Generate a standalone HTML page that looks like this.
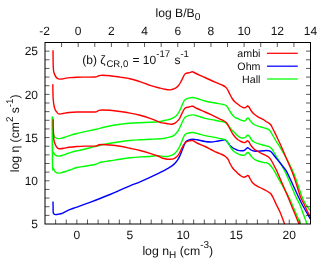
<!DOCTYPE html>
<html><head><meta charset="utf-8"><title>plot</title>
<style>html,body{margin:0;padding:0;background:#fff;width:330px;height:269px;overflow:hidden;}svg{display:block;will-change:transform;}</style></head>
<body>
<svg width="330" height="269" viewBox="0 0 330 269">
<rect width="330" height="269" fill="#fff"/>
<clipPath id="c"><rect x="45.00" y="42.50" width="266.00" height="181.50"/></clipPath>
<g fill="none" stroke-width="1.4" stroke-linejoin="round" stroke-linecap="butt" clip-path="url(#c)">
<path stroke="#00ff00" d="M52.50,116.80 C52.50,118.22 52.48,123.05 52.50,125.30 C52.52,127.55 52.52,128.97 52.60,130.30 C52.68,131.63 52.77,132.47 53.00,133.30 C53.23,134.13 53.67,134.63 54.00,135.30 C54.33,135.97 54.50,136.80 55.00,137.30 C55.50,137.80 56.33,138.08 57.00,138.30 C57.67,138.52 58.17,138.63 59.00,138.60 C59.83,138.57 60.83,138.40 62.00,138.10 C63.17,137.80 64.50,137.30 66.00,136.80 C67.50,136.30 69.50,135.57 71.00,135.10 C72.50,134.63 72.67,134.58 75.00,134.00 C77.33,133.42 81.67,132.35 85.00,131.60 C88.33,130.85 91.67,130.27 95.00,129.50 C98.33,128.73 101.67,127.75 105.00,127.00 C108.33,126.25 112.50,125.45 115.00,125.00 C117.50,124.55 117.50,124.60 120.00,124.30 C122.50,124.00 126.67,123.47 130.00,123.20 C133.33,122.93 136.67,122.85 140.00,122.70 C143.33,122.55 146.67,122.50 150.00,122.30 C153.33,122.10 157.50,121.83 160.00,121.50 C162.50,121.17 163.33,120.67 165.00,120.30 C166.67,119.93 168.83,119.60 170.00,119.30 C171.17,119.00 171.00,119.05 172.00,118.50 C173.00,117.95 174.83,117.08 176.00,116.00 C177.17,114.92 178.08,113.58 179.00,112.00 C179.92,110.42 180.75,108.17 181.50,106.50 C182.25,104.83 182.92,103.12 183.50,102.00 C184.08,100.88 184.17,100.43 185.00,99.80 C185.83,99.17 187.25,98.58 188.50,98.20 C189.75,97.82 191.08,97.45 192.50,97.50 C193.92,97.55 194.92,97.92 197.00,98.50 C199.08,99.08 202.00,100.25 205.00,101.00 C208.00,101.75 212.00,102.42 215.00,103.00 C218.00,103.58 221.17,104.08 223.00,104.50 C224.83,104.92 225.17,104.92 226.00,105.50 C226.83,106.08 227.33,107.00 228.00,108.00 C228.67,109.00 229.25,110.33 230.00,111.50 C230.75,112.67 231.67,114.00 232.50,115.00 C233.33,116.00 234.08,116.88 235.00,117.50 C235.92,118.12 237.00,118.25 238.00,118.70 C239.00,119.15 240.00,119.82 241.00,120.20 C242.00,120.58 243.25,120.95 244.00,121.00 C244.75,121.05 245.00,120.92 245.50,120.50 C246.00,120.08 246.58,118.92 247.00,118.50 C247.42,118.08 247.58,117.83 248.00,118.00 C248.42,118.17 248.92,118.80 249.50,119.50 C250.08,120.20 250.75,121.37 251.50,122.20 C252.25,123.03 252.92,123.83 254.00,124.50 C255.08,125.17 256.33,125.65 258.00,126.20 C259.67,126.75 262.67,127.42 264.00,127.80 C265.33,128.18 265.33,128.27 266.00,128.50 C266.67,128.73 267.33,128.82 268.00,129.20 C268.67,129.58 269.33,130.00 270.00,130.80 C270.67,131.60 271.33,132.88 272.00,134.00 C272.67,135.12 273.33,136.33 274.00,137.50 C274.67,138.67 275.33,139.92 276.00,141.00 C276.67,142.08 277.45,143.17 278.00,144.00 C278.55,144.83 277.88,143.58 279.30,146.00 C280.72,148.42 284.18,154.17 286.50,158.50 C288.82,162.83 291.32,167.67 293.20,172.00 C295.08,176.33 296.28,180.25 297.80,184.50 C299.32,188.75 301.02,194.25 302.30,197.50 C303.58,200.75 304.15,201.75 305.50,204.00 C306.85,206.25 309.58,209.83 310.40,211.00"/>
<path stroke="#00ff00" d="M52.50,116.80 C52.50,122.38 52.33,144.38 52.50,150.30 C52.67,156.22 53.17,151.63 53.50,152.30 C53.83,152.97 54.08,153.77 54.50,154.30 C54.92,154.83 55.33,155.20 56.00,155.50 C56.67,155.80 57.50,156.10 58.50,156.10 C59.50,156.10 60.75,155.83 62.00,155.50 C63.25,155.17 64.50,154.63 66.00,154.10 C67.50,153.57 69.17,152.85 71.00,152.30 C72.83,151.75 75.50,151.13 77.00,150.80 C78.50,150.47 77.83,150.80 80.00,150.30 C82.17,149.80 86.67,148.63 90.00,147.80 C93.33,146.97 96.67,146.05 100.00,145.30 C103.33,144.55 106.67,143.90 110.00,143.30 C113.33,142.70 116.67,142.17 120.00,141.70 C123.33,141.23 126.67,140.82 130.00,140.50 C133.33,140.18 136.67,140.00 140.00,139.80 C143.33,139.60 146.67,139.47 150.00,139.30 C153.33,139.13 157.50,138.97 160.00,138.80 C162.50,138.63 163.33,138.62 165.00,138.30 C166.67,137.98 168.83,137.20 170.00,136.90 C171.17,136.60 171.17,136.90 172.00,136.50 C172.83,136.10 174.00,135.42 175.00,134.50 C176.00,133.58 177.08,132.42 178.00,131.00 C178.92,129.58 179.75,127.58 180.50,126.00 C181.25,124.42 181.92,122.72 182.50,121.50 C183.08,120.28 183.50,119.48 184.00,118.70 C184.50,117.92 184.75,117.32 185.50,116.80 C186.25,116.28 187.33,115.92 188.50,115.60 C189.67,115.28 190.92,114.82 192.50,114.90 C194.08,114.98 195.92,115.52 198.00,116.10 C200.08,116.68 202.17,117.72 205.00,118.40 C207.83,119.08 212.17,119.67 215.00,120.20 C217.83,120.73 220.33,121.25 222.00,121.60 C223.67,121.95 224.25,121.98 225.00,122.30 C225.75,122.62 225.92,122.88 226.50,123.50 C227.08,124.12 227.92,125.28 228.50,126.00 C229.08,126.72 229.42,127.10 230.00,127.80 C230.58,128.50 231.17,129.33 232.00,130.20 C232.83,131.07 234.00,132.03 235.00,133.00 C236.00,133.97 237.00,135.20 238.00,136.00 C239.00,136.80 240.08,137.47 241.00,137.80 C241.92,138.13 242.75,138.10 243.50,138.00 C244.25,137.90 244.92,137.62 245.50,137.20 C246.08,136.78 246.58,135.83 247.00,135.50 C247.42,135.17 247.58,135.03 248.00,135.20 C248.42,135.37 248.92,135.75 249.50,136.50 C250.08,137.25 250.75,138.78 251.50,139.70 C252.25,140.62 252.92,141.33 254.00,142.00 C255.08,142.67 256.33,143.15 258.00,143.70 C259.67,144.25 262.67,144.95 264.00,145.30 C265.33,145.65 265.17,145.57 266.00,145.80 C266.83,146.03 268.08,146.25 269.00,146.70 C269.92,147.15 270.75,147.70 271.50,148.50 C272.25,149.30 272.75,150.25 273.50,151.50 C274.25,152.75 275.08,154.42 276.00,156.00 C276.92,157.58 278.00,159.33 279.00,161.00 C280.00,162.67 281.00,164.25 282.00,166.00 C283.00,167.75 283.58,168.50 285.00,171.50 C286.42,174.50 288.67,179.75 290.50,184.00 C292.33,188.25 294.42,193.50 296.00,197.00 C297.58,200.50 298.75,202.08 300.00,205.00 C301.25,207.92 302.30,211.25 303.50,214.50 C304.70,217.75 306.58,222.83 307.20,224.50"/>
<path stroke="#0000ff" d="M53.00,201.50 C53.02,202.63 53.07,206.50 53.10,208.30 C53.13,210.10 53.05,211.33 53.20,212.30 C53.35,213.27 53.62,213.72 54.00,214.10 C54.38,214.48 54.67,214.60 55.50,214.60 C56.33,214.60 57.92,214.32 59.00,214.10 C60.08,213.88 60.83,213.77 62.00,213.30 C63.17,212.83 64.50,212.00 66.00,211.30 C67.50,210.60 69.17,209.80 71.00,209.10 C72.83,208.40 73.83,208.23 77.00,207.10 C80.17,205.97 86.17,203.73 90.00,202.30 C93.83,200.87 96.67,199.80 100.00,198.50 C103.33,197.20 106.67,195.88 110.00,194.50 C113.33,193.12 116.67,191.65 120.00,190.20 C123.33,188.75 126.67,187.20 130.00,185.80 C133.33,184.40 136.67,183.22 140.00,181.80 C143.33,180.38 146.67,178.83 150.00,177.30 C153.33,175.77 157.67,173.72 160.00,172.60 C162.33,171.48 162.67,171.32 164.00,170.60 C165.33,169.88 166.67,169.08 168.00,168.30 C169.33,167.52 170.83,166.73 172.00,165.90 C173.17,165.07 174.08,164.25 175.00,163.30 C175.92,162.35 176.75,161.32 177.50,160.20 C178.25,159.08 178.83,157.97 179.50,156.60 C180.17,155.23 180.75,153.85 181.50,152.00 C182.25,150.15 183.25,147.25 184.00,145.50 C184.75,143.75 185.17,142.42 186.00,141.50 C186.83,140.58 187.92,140.38 189.00,140.00 C190.08,139.62 191.17,139.23 192.50,139.20 C193.83,139.17 194.92,139.42 197.00,139.80 C199.08,140.18 202.67,141.13 205.00,141.50 C207.33,141.87 209.00,142.05 211.00,142.00 C213.00,141.95 215.17,141.50 217.00,141.20 C218.83,140.90 220.75,140.43 222.00,140.20 C223.25,139.97 223.75,139.67 224.50,139.80 C225.25,139.93 225.83,140.38 226.50,141.00 C227.17,141.62 227.92,142.75 228.50,143.50 C229.08,144.25 229.25,144.75 230.00,145.50 C230.75,146.25 232.00,147.35 233.00,148.00 C234.00,148.65 235.17,149.02 236.00,149.40 C236.83,149.78 237.17,150.07 238.00,150.30 C238.83,150.53 240.00,150.77 241.00,150.80 C242.00,150.83 243.17,150.80 244.00,150.50 C244.83,150.20 245.42,149.45 246.00,149.00 C246.58,148.55 247.00,147.88 247.50,147.80 C248.00,147.72 248.42,148.13 249.00,148.50 C249.58,148.87 250.17,149.58 251.00,150.00 C251.83,150.42 252.83,150.80 254.00,151.00 C255.17,151.20 256.33,151.23 258.00,151.20 C259.67,151.17 262.67,150.92 264.00,150.80 C265.33,150.68 265.17,150.50 266.00,150.50 C266.83,150.50 268.17,150.58 269.00,150.80 C269.83,151.02 270.33,151.27 271.00,151.80 C271.67,152.33 272.17,152.97 273.00,154.00 C273.83,155.03 274.93,156.67 276.00,158.00 C277.07,159.33 278.12,160.42 279.40,162.00 C280.68,163.58 282.47,165.87 283.70,167.50 C284.93,169.13 285.37,169.13 286.80,171.80 C288.23,174.47 290.35,179.30 292.30,183.50 C294.25,187.70 296.72,193.25 298.50,197.00 C300.28,200.75 301.02,202.33 303.00,206.00 C304.98,209.67 309.17,216.83 310.40,219.00"/>
<path stroke="#00ff00" d="M52.50,116.80 C52.50,124.88 52.33,156.72 52.50,165.30 C52.67,173.88 53.17,167.38 53.50,168.30 C53.83,169.22 54.08,170.13 54.50,170.80 C54.92,171.47 55.33,171.92 56.00,172.30 C56.67,172.68 57.50,173.07 58.50,173.10 C59.50,173.13 60.75,172.80 62.00,172.50 C63.25,172.20 64.50,171.78 66.00,171.30 C67.50,170.82 69.17,170.23 71.00,169.60 C72.83,168.97 74.67,168.07 77.00,167.50 C79.33,166.93 82.00,166.70 85.00,166.20 C88.00,165.70 92.78,165.00 95.00,164.50 C97.22,164.00 97.18,163.62 98.30,163.20 C99.42,162.78 99.75,162.40 101.70,162.00 C103.65,161.60 106.95,161.27 110.00,160.80 C113.05,160.33 116.67,159.70 120.00,159.20 C123.33,158.70 126.67,158.18 130.00,157.80 C133.33,157.42 136.67,157.12 140.00,156.90 C143.33,156.68 147.00,156.72 150.00,156.50 C153.00,156.28 155.67,155.60 158.00,155.60 C160.33,155.60 162.33,156.37 164.00,156.50 C165.67,156.63 166.67,156.62 168.00,156.40 C169.33,156.18 170.83,155.73 172.00,155.20 C173.17,154.67 174.08,154.03 175.00,153.20 C175.92,152.37 176.75,151.27 177.50,150.20 C178.25,149.13 178.83,148.12 179.50,146.80 C180.17,145.48 180.83,143.90 181.50,142.30 C182.17,140.70 182.88,138.53 183.50,137.20 C184.12,135.87 184.37,135.00 185.20,134.30 C186.03,133.60 187.28,133.30 188.50,133.00 C189.72,132.70 190.92,132.38 192.50,132.50 C194.08,132.62 195.92,133.18 198.00,133.70 C200.08,134.22 202.17,134.98 205.00,135.60 C207.83,136.22 212.17,136.85 215.00,137.40 C217.83,137.95 220.33,138.52 222.00,138.90 C223.67,139.28 224.17,139.30 225.00,139.70 C225.83,140.10 226.33,140.50 227.00,141.30 C227.67,142.10 228.33,143.38 229.00,144.50 C229.67,145.62 230.17,146.83 231.00,148.00 C231.83,149.17 232.83,150.53 234.00,151.50 C235.17,152.47 236.83,153.22 238.00,153.80 C239.17,154.38 240.08,154.75 241.00,155.00 C241.92,155.25 242.75,155.38 243.50,155.30 C244.25,155.22 244.92,154.92 245.50,154.50 C246.08,154.08 246.58,153.13 247.00,152.80 C247.42,152.47 247.58,152.33 248.00,152.50 C248.42,152.67 248.92,153.13 249.50,153.80 C250.08,154.47 250.75,155.63 251.50,156.50 C252.25,157.37 252.92,158.25 254.00,159.00 C255.08,159.75 256.33,160.40 258.00,161.00 C259.67,161.60 262.67,162.33 264.00,162.60 C265.33,162.87 265.33,162.48 266.00,162.60 C266.67,162.72 267.33,162.92 268.00,163.30 C268.67,163.68 269.33,164.20 270.00,164.90 C270.67,165.60 271.33,166.60 272.00,167.50 C272.67,168.40 272.42,167.55 274.00,170.30 C275.58,173.05 279.03,179.55 281.50,184.00 C283.97,188.45 286.63,192.67 288.80,197.00 C290.97,201.33 292.52,205.42 294.50,210.00 C296.48,214.58 299.67,222.08 300.70,224.50"/>
<path stroke="#ff0000" d="M53.00,50.30 C53.02,51.97 53.07,57.80 53.10,60.30 C53.13,62.80 53.13,63.63 53.20,65.30 C53.27,66.97 53.37,69.05 53.50,70.30 C53.63,71.55 53.78,72.05 54.00,72.80 C54.22,73.55 54.47,74.10 54.80,74.80 C55.13,75.50 55.55,76.40 56.00,77.00 C56.45,77.60 56.92,78.05 57.50,78.40 C58.08,78.75 58.75,79.00 59.50,79.10 C60.25,79.20 60.92,79.17 62.00,79.00 C63.08,78.83 64.67,78.33 66.00,78.10 C67.33,77.87 68.17,77.75 70.00,77.60 C71.83,77.45 74.50,77.28 77.00,77.20 C79.50,77.12 82.00,77.13 85.00,77.10 C88.00,77.07 93.00,77.08 95.00,77.00 C97.00,76.92 96.33,76.82 97.00,76.60 C97.67,76.38 98.17,75.92 99.00,75.70 C99.83,75.48 100.17,75.30 102.00,75.30 C103.83,75.30 107.00,75.40 110.00,75.70 C113.00,76.00 116.67,76.60 120.00,77.10 C123.33,77.60 126.67,77.93 130.00,78.70 C133.33,79.47 136.67,80.60 140.00,81.70 C143.33,82.80 146.67,84.23 150.00,85.30 C153.33,86.37 157.50,87.43 160.00,88.10 C162.50,88.77 163.33,89.00 165.00,89.30 C166.67,89.60 168.83,89.87 170.00,89.90 C171.17,89.93 171.00,89.85 172.00,89.50 C173.00,89.15 174.92,88.47 176.00,87.80 C177.08,87.13 177.75,86.38 178.50,85.50 C179.25,84.62 179.83,83.67 180.50,82.50 C181.17,81.33 181.92,79.67 182.50,78.50 C183.08,77.33 183.50,76.33 184.00,75.50 C184.50,74.67 184.67,73.97 185.50,73.50 C186.33,73.03 187.83,72.98 189.00,72.70 C190.17,72.42 191.50,71.75 192.50,71.80 C193.50,71.85 193.75,72.42 195.00,73.00 C196.25,73.58 198.33,74.55 200.00,75.30 C201.67,76.05 202.50,76.35 205.00,77.50 C207.50,78.65 212.00,80.87 215.00,82.20 C218.00,83.53 221.25,84.70 223.00,85.50 C224.75,86.30 224.75,86.33 225.50,87.00 C226.25,87.67 226.75,88.25 227.50,89.50 C228.25,90.75 229.17,92.92 230.00,94.50 C230.83,96.08 231.67,97.75 232.50,99.00 C233.33,100.25 234.08,101.12 235.00,102.00 C235.92,102.88 237.00,103.55 238.00,104.30 C239.00,105.05 240.00,105.92 241.00,106.50 C242.00,107.08 243.25,107.63 244.00,107.80 C244.75,107.97 245.00,107.75 245.50,107.50 C246.00,107.25 246.63,106.55 247.00,106.30 C247.37,106.05 247.37,105.88 247.70,106.00 C248.03,106.12 248.45,106.25 249.00,107.00 C249.55,107.75 250.17,109.33 251.00,110.50 C251.83,111.67 252.83,112.95 254.00,114.00 C255.17,115.05 256.33,115.80 258.00,116.80 C259.67,117.80 262.67,119.22 264.00,120.00 C265.33,120.78 265.25,121.03 266.00,121.50 C266.75,121.97 267.75,122.30 268.50,122.80 C269.25,123.30 269.92,123.80 270.50,124.50 C271.08,125.20 271.42,125.92 272.00,127.00 C272.58,128.08 273.33,129.67 274.00,131.00 C274.67,132.33 275.33,133.58 276.00,135.00 C276.67,136.42 277.33,138.08 278.00,139.50 C278.67,140.92 279.42,142.25 280.00,143.50 C280.58,144.75 280.50,144.67 281.50,147.00 C282.50,149.33 284.22,153.33 286.00,157.50 C287.78,161.67 290.45,167.50 292.20,172.00 C293.95,176.50 295.12,180.33 296.50,184.50 C297.88,188.67 299.25,193.75 300.50,197.00 C301.75,200.25 302.92,201.75 304.00,204.00 C305.08,206.25 305.93,208.33 307.00,210.50 C308.07,212.67 309.83,215.92 310.40,217.00"/>
<path stroke="#ff0000" d="M52.80,84.30 C52.83,86.13 52.92,92.63 53.00,95.30 C53.08,97.97 53.13,98.63 53.30,100.30 C53.47,101.97 53.72,103.80 54.00,105.30 C54.28,106.80 54.58,108.22 55.00,109.30 C55.42,110.38 56.00,111.10 56.50,111.80 C57.00,112.50 57.42,113.12 58.00,113.50 C58.58,113.88 59.00,114.13 60.00,114.10 C61.00,114.07 62.50,113.57 64.00,113.30 C65.50,113.03 66.83,112.72 69.00,112.50 C71.17,112.28 74.33,112.08 77.00,112.00 C79.67,111.92 82.00,112.00 85.00,112.00 C88.00,112.00 93.00,112.08 95.00,112.00 C97.00,111.92 96.33,111.78 97.00,111.50 C97.67,111.22 98.17,110.55 99.00,110.30 C99.83,110.05 100.17,110.00 102.00,110.00 C103.83,110.00 107.00,110.05 110.00,110.30 C113.00,110.55 116.67,111.03 120.00,111.50 C123.33,111.97 126.67,112.47 130.00,113.10 C133.33,113.73 136.67,114.43 140.00,115.30 C143.33,116.17 146.67,117.13 150.00,118.30 C153.33,119.47 157.50,121.47 160.00,122.30 C162.50,123.13 163.33,123.00 165.00,123.30 C166.67,123.60 168.83,123.95 170.00,124.10 C171.17,124.25 171.17,124.35 172.00,124.20 C172.83,124.05 174.00,123.82 175.00,123.20 C176.00,122.58 177.25,121.27 178.00,120.50 C178.75,119.73 179.08,119.27 179.50,118.60 C179.92,117.93 180.05,117.43 180.50,116.50 C180.95,115.57 181.62,114.17 182.20,113.00 C182.78,111.83 183.45,110.37 184.00,109.50 C184.55,108.63 184.67,108.22 185.50,107.80 C186.33,107.38 187.83,107.25 189.00,107.00 C190.17,106.75 191.17,106.05 192.50,106.30 C193.83,106.55 194.92,107.55 197.00,108.50 C199.08,109.45 202.67,110.97 205.00,112.00 C207.33,113.03 209.00,113.77 211.00,114.70 C213.00,115.63 215.17,116.73 217.00,117.60 C218.83,118.47 220.67,119.25 222.00,119.90 C223.33,120.55 224.17,120.90 225.00,121.50 C225.83,122.10 226.33,122.58 227.00,123.50 C227.67,124.42 228.33,125.75 229.00,127.00 C229.67,128.25 230.25,129.67 231.00,131.00 C231.75,132.33 232.67,133.83 233.50,135.00 C234.33,136.17 235.25,137.22 236.00,138.00 C236.75,138.78 237.17,139.12 238.00,139.70 C238.83,140.28 240.00,141.02 241.00,141.50 C242.00,141.98 243.17,142.53 244.00,142.60 C244.83,142.67 245.42,142.22 246.00,141.90 C246.58,141.58 247.00,140.68 247.50,140.70 C248.00,140.72 248.42,141.20 249.00,142.00 C249.58,142.80 250.17,144.33 251.00,145.50 C251.83,146.67 252.83,148.00 254.00,149.00 C255.17,150.00 256.67,150.72 258.00,151.50 C259.33,152.28 260.67,153.03 262.00,153.70 C263.33,154.37 264.92,154.95 266.00,155.50 C267.08,156.05 267.75,156.38 268.50,157.00 C269.25,157.62 269.83,158.28 270.50,159.20 C271.17,160.12 271.83,161.28 272.50,162.50 C273.17,163.72 273.83,165.20 274.50,166.50 C275.17,167.80 275.25,167.55 276.50,170.30 C277.75,173.05 280.08,178.55 282.00,183.00 C283.92,187.45 286.08,192.42 288.00,197.00 C289.92,201.58 291.63,205.92 293.50,210.50 C295.37,215.08 298.25,222.17 299.20,224.50"/>
<path stroke="#ff0000" d="M53.20,119.30 C53.20,120.30 53.17,123.47 53.20,125.30 C53.23,127.13 53.33,128.63 53.40,130.30 C53.47,131.97 53.50,133.63 53.60,135.30 C53.70,136.97 53.73,138.80 54.00,140.30 C54.27,141.80 54.78,143.22 55.20,144.30 C55.62,145.38 56.03,146.13 56.50,146.80 C56.97,147.47 57.42,147.97 58.00,148.30 C58.58,148.63 59.00,148.80 60.00,148.80 C61.00,148.80 62.50,148.55 64.00,148.30 C65.50,148.05 66.83,147.60 69.00,147.30 C71.17,147.00 74.33,146.70 77.00,146.50 C79.67,146.30 82.00,146.17 85.00,146.10 C88.00,146.03 93.00,146.15 95.00,146.10 C97.00,146.05 96.33,146.02 97.00,145.80 C97.67,145.58 98.17,145.02 99.00,144.80 C99.83,144.58 100.17,144.47 102.00,144.50 C103.83,144.53 107.00,144.70 110.00,145.00 C113.00,145.30 116.67,145.75 120.00,146.30 C123.33,146.85 126.67,147.60 130.00,148.30 C133.33,149.00 136.67,149.67 140.00,150.50 C143.33,151.33 147.00,152.38 150.00,153.30 C153.00,154.22 156.00,155.22 158.00,156.00 C160.00,156.78 160.67,157.50 162.00,158.00 C163.33,158.50 164.67,158.78 166.00,159.00 C167.33,159.22 168.67,159.37 170.00,159.30 C171.33,159.23 172.83,159.05 174.00,158.60 C175.17,158.15 176.08,157.53 177.00,156.60 C177.92,155.67 178.75,154.27 179.50,153.00 C180.25,151.73 180.83,150.33 181.50,149.00 C182.17,147.67 182.83,146.08 183.50,145.00 C184.17,143.92 184.67,143.13 185.50,142.50 C186.33,141.87 187.33,141.53 188.50,141.20 C189.67,140.87 191.08,140.20 192.50,140.50 C193.92,140.80 194.92,142.00 197.00,143.00 C199.08,144.00 202.67,145.42 205.00,146.50 C207.33,147.58 209.00,148.50 211.00,149.50 C213.00,150.50 215.17,151.67 217.00,152.50 C218.83,153.33 220.67,153.88 222.00,154.50 C223.33,155.12 224.17,155.62 225.00,156.20 C225.83,156.78 226.42,157.37 227.00,158.00 C227.58,158.63 228.00,159.08 228.50,160.00 C229.00,160.92 229.25,162.08 230.00,163.50 C230.75,164.92 232.00,167.17 233.00,168.50 C234.00,169.83 235.17,170.67 236.00,171.50 C236.83,172.33 237.17,172.75 238.00,173.50 C238.83,174.25 240.00,175.38 241.00,176.00 C242.00,176.62 243.17,177.12 244.00,177.20 C244.83,177.28 245.42,176.78 246.00,176.50 C246.58,176.22 247.08,175.62 247.50,175.50 C247.92,175.38 248.08,175.30 248.50,175.80 C248.92,176.30 249.42,177.47 250.00,178.50 C250.58,179.53 251.17,180.95 252.00,182.00 C252.83,183.05 253.67,183.88 255.00,184.80 C256.33,185.72 258.17,186.55 260.00,187.50 C261.83,188.45 264.50,189.67 266.00,190.50 C267.50,191.33 268.17,191.92 269.00,192.50 C269.83,193.08 270.25,193.00 271.00,194.00 C271.75,195.00 272.58,196.67 273.50,198.50 C274.42,200.33 275.42,202.75 276.50,205.00 C277.58,207.25 278.62,208.75 280.00,212.00 C281.38,215.25 284.00,222.42 284.80,224.50"/>
</g>
<path d="M55.62,224.00 V219.50 M66.24,224.00 V219.50 M76.86,224.00 V219.50 M87.48,224.00 V219.50 M98.10,224.00 V219.50 M108.72,224.00 V219.50 M119.34,224.00 V219.50 M129.96,224.00 V219.50 M140.58,224.00 V219.50 M151.20,224.00 V219.50 M161.82,224.00 V219.50 M172.44,224.00 V219.50 M183.06,224.00 V219.50 M193.68,224.00 V219.50 M204.30,224.00 V219.50 M214.92,224.00 V219.50 M225.54,224.00 V219.50 M236.16,224.00 V219.50 M246.78,224.00 V219.50 M257.40,224.00 V219.50 M268.02,224.00 V219.50 M278.64,224.00 V219.50 M289.26,224.00 V219.50 M299.88,224.00 V219.50 M61.59,42.50 V47.00 M78.19,42.50 V47.00 M94.78,42.50 V47.00 M111.38,42.50 V47.00 M127.97,42.50 V47.00 M144.56,42.50 V47.00 M161.16,42.50 V47.00 M177.75,42.50 V47.00 M194.34,42.50 V47.00 M210.94,42.50 V47.00 M227.53,42.50 V47.00 M244.12,42.50 V47.00 M260.72,42.50 V47.00 M277.31,42.50 V47.00 M293.91,42.50 V47.00 M45.00,215.36 H49.50 M310.50,215.36 H306.00 M45.00,206.71 H49.50 M310.50,206.71 H306.00 M45.00,198.07 H49.50 M310.50,198.07 H306.00 M45.00,189.43 H49.50 M310.50,189.43 H306.00 M45.00,180.79 H49.50 M310.50,180.79 H306.00 M45.00,172.14 H49.50 M310.50,172.14 H306.00 M45.00,163.50 H49.50 M310.50,163.50 H306.00 M45.00,154.86 H49.50 M310.50,154.86 H306.00 M45.00,146.21 H49.50 M310.50,146.21 H306.00 M45.00,137.57 H49.50 M310.50,137.57 H306.00 M45.00,128.93 H49.50 M310.50,128.93 H306.00 M45.00,120.29 H49.50 M310.50,120.29 H306.00 M45.00,111.64 H49.50 M310.50,111.64 H306.00 M45.00,103.00 H49.50 M310.50,103.00 H306.00 M45.00,94.36 H49.50 M310.50,94.36 H306.00 M45.00,85.71 H49.50 M310.50,85.71 H306.00 M45.00,77.07 H49.50 M310.50,77.07 H306.00 M45.00,68.43 H49.50 M310.50,68.43 H306.00 M45.00,59.79 H49.50 M310.50,59.79 H306.00 M45.00,51.14 H49.50 M310.50,51.14 H306.00" stroke="#000" stroke-width="0.65" fill="none"/>
<rect x="45.00" y="42.50" width="265.50" height="181.50" fill="none" stroke="#000" stroke-width="1"/>
<path d="M267,53.30 H297.8" stroke="#ff0000" stroke-width="1.25" fill="none"/>
<path d="M267,66.20 H297.8" stroke="#0000ff" stroke-width="1.25" fill="none"/>
<path d="M267,79.00 H297.8" stroke="#00ff00" stroke-width="1.25" fill="none"/>
<g style="filter:grayscale(1)" text-rendering="geometricPrecision" font-family="'Liberation Sans', sans-serif" font-size="12" fill="#111">
<text x="260.5" y="56.70" text-anchor="end" font-size="10.7">ambi</text>
<text x="260.5" y="69.80" text-anchor="end" font-size="10.7">Ohm</text>
<text x="260.5" y="82.90" text-anchor="end" font-size="10.7">Hall</text>
<text x="44.50" y="35" text-anchor="middle">-2</text>
<text x="78.19" y="35" text-anchor="middle">0</text>
<text x="111.38" y="35" text-anchor="middle">2</text>
<text x="144.56" y="35" text-anchor="middle">4</text>
<text x="177.75" y="35" text-anchor="middle">6</text>
<text x="210.94" y="35" text-anchor="middle">8</text>
<text x="244.12" y="35" text-anchor="middle">10</text>
<text x="277.31" y="35" text-anchor="middle">12</text>
<text x="310.50" y="35" text-anchor="middle">14</text>
<text x="76.86" y="238.8" text-anchor="middle">0</text>
<text x="129.96" y="238.8" text-anchor="middle">5</text>
<text x="183.06" y="238.8" text-anchor="middle">10</text>
<text x="236.16" y="238.8" text-anchor="middle">15</text>
<text x="289.26" y="238.8" text-anchor="middle">20</text>
<text x="38" y="228.30" text-anchor="end">5</text>
<text x="38" y="185.09" text-anchor="end">10</text>
<text x="38" y="141.87" text-anchor="end">15</text>
<text x="38" y="98.66" text-anchor="end">20</text>
<text x="38" y="55.44" text-anchor="end">25</text>
<text x="155.5" y="17" font-size="12.15">log B/B<tspan font-size="10.2" dy="3">0</tspan></text>
<text x="142.4" y="255.3" font-size="12.3">log n<tspan font-size="10" dy="3">H</tspan><tspan dy="-3"> (cm</tspan><tspan font-size="10" dy="-7">-3</tspan><tspan dy="7">)</tspan></text>
<text transform="translate(19,172.2) rotate(-90)" font-size="12.2">log η (cm<tspan font-size="9.8" dy="-6">2</tspan><tspan dy="6"> s</tspan><tspan font-size="9.8" dy="-6">-1</tspan><tspan dy="6">)</tspan></text>
<text x="82.3" y="64.3">(b) ζ<tspan font-size="9.6" dy="3" dx="0.8">CR,0</tspan><tspan dy="-3" dx="0.8"> = 10</tspan><tspan font-size="9.6" dy="-7" dx="0.2">-17</tspan><tspan dy="7" dx="0.9"> s</tspan><tspan font-size="9.6" dy="-7">-1</tspan></text>
</g>
</svg>
</body></html>
